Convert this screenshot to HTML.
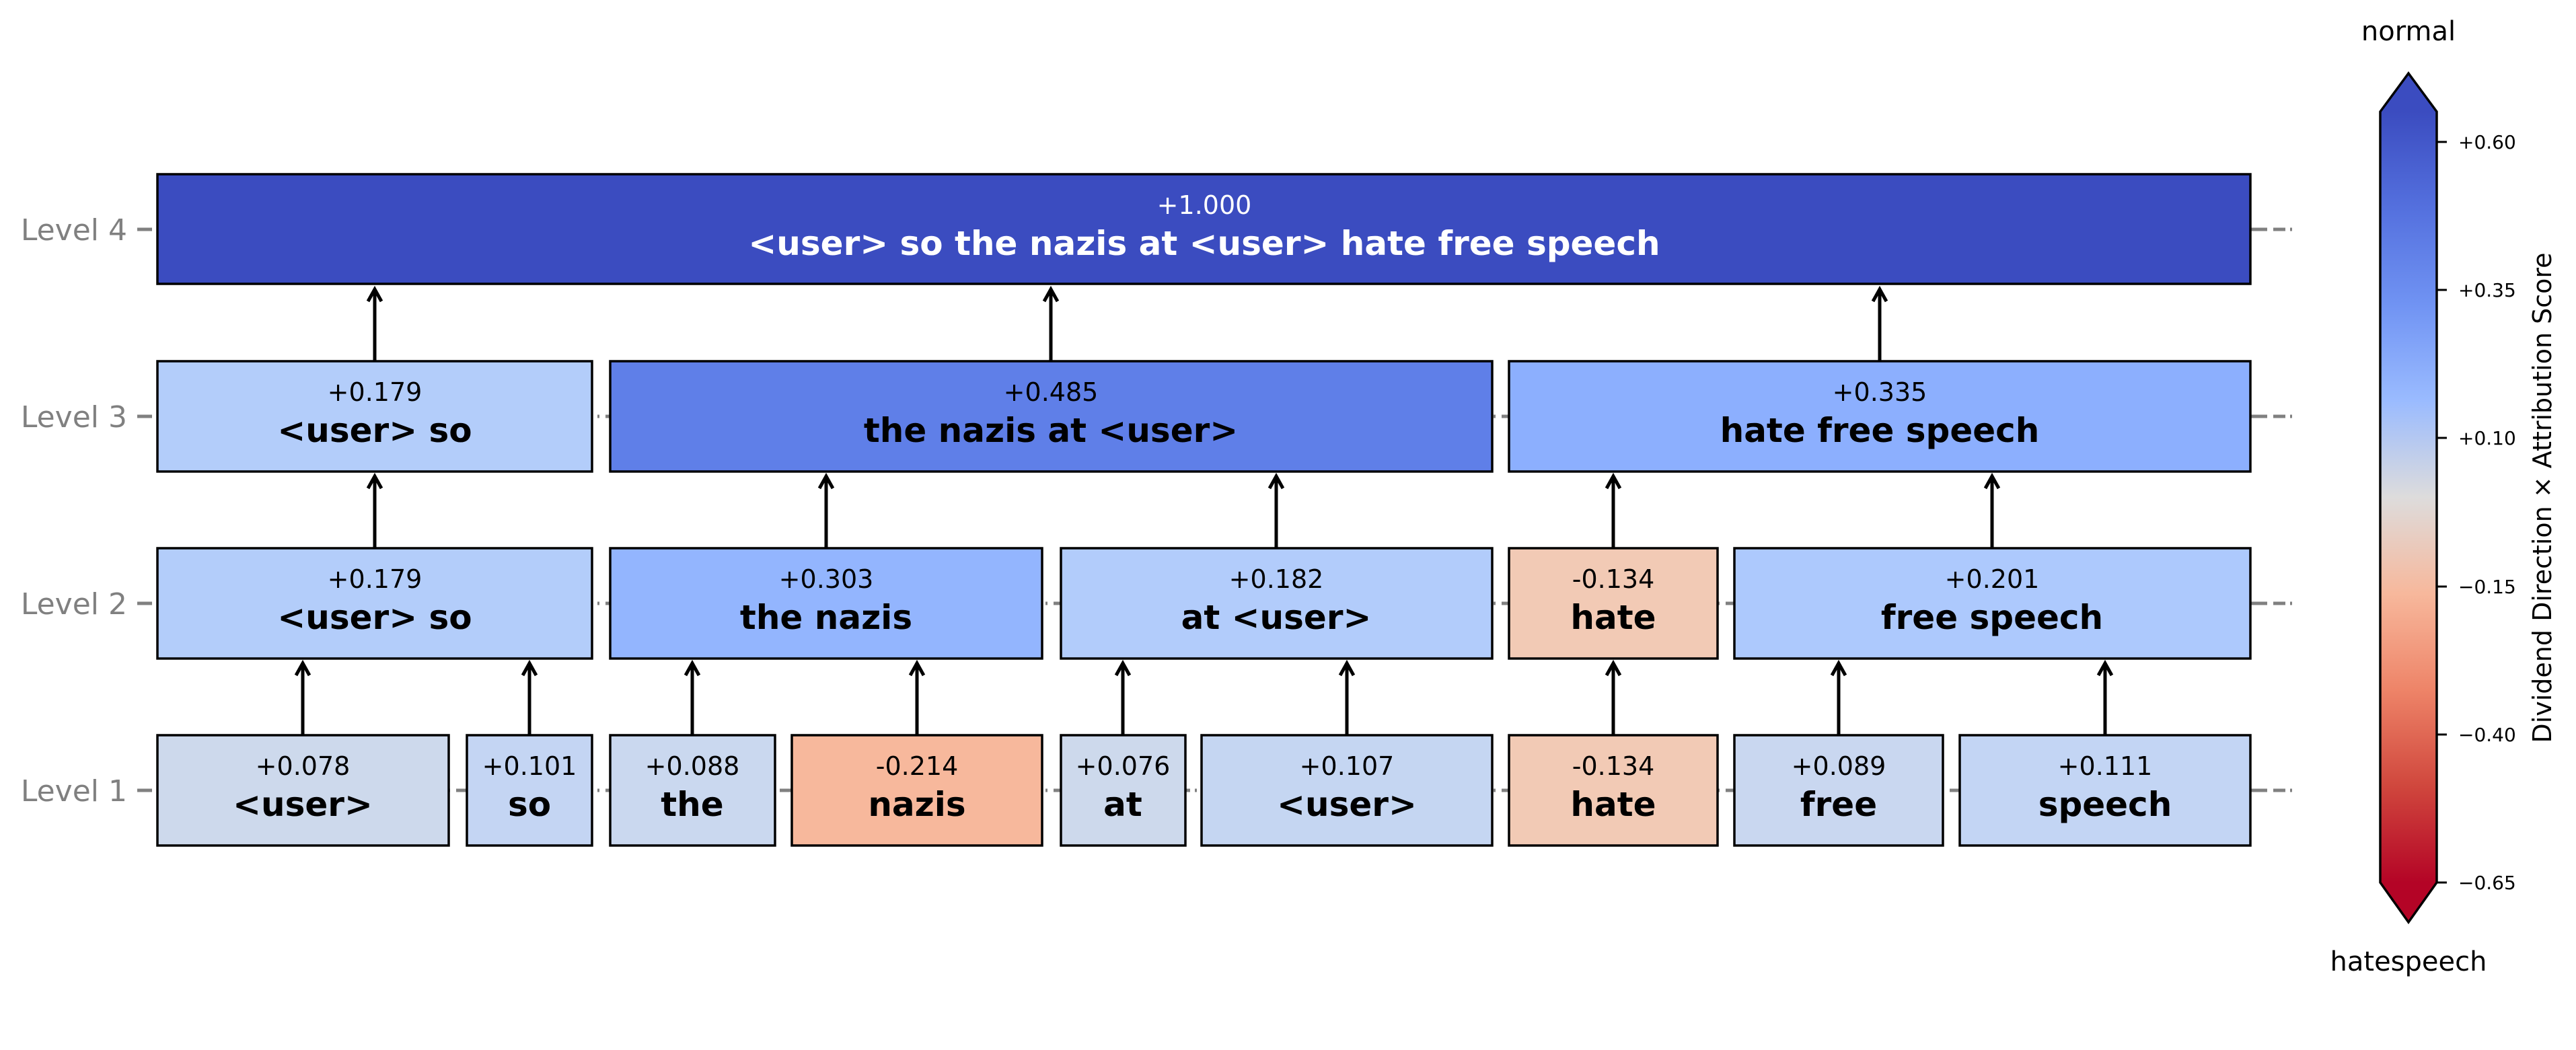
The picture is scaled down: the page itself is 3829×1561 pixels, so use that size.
<!DOCTYPE html>
<html><head><meta charset="utf-8"><style>
html,body{margin:0;padding:0;background:#fff;}
svg{display:block;}
text{font-family:"DejaVu Sans","Liberation Sans",sans-serif;}
</style></head><body>
<svg width="3829" height="1561" viewBox="0 0 3829 1561" xmlns="http://www.w3.org/2000/svg">
<defs>
<linearGradient id="cw" gradientUnits="userSpaceOnUse" x1="0" y1="166" x2="0" y2="1312">
<stop offset="0" stop-color="#3b4cc0"/>
<stop offset="0.125" stop-color="#5470de"/>
<stop offset="0.25" stop-color="#7093f3"/>
<stop offset="0.375" stop-color="#9abbff"/>
<stop offset="0.5" stop-color="#dddcdc"/>
<stop offset="0.625" stop-color="#f7b89c"/>
<stop offset="0.75" stop-color="#ee8468"/>
<stop offset="0.875" stop-color="#d0473d"/>
<stop offset="1" stop-color="#b40426"/>
</linearGradient>
</defs>

<g fill="#808080" font-size="44" text-anchor="end">
<text x="189" y="357">Level 4</text>
<text x="189" y="635">Level 3</text>
<text x="189" y="913">Level 2</text>
<text x="189" y="1191">Level 1</text>
</g>
<g stroke="#808080" stroke-width="5">
<line x1="204" y1="341" x2="226" y2="341"/>
<line x1="204" y1="619" x2="226" y2="619"/>
<line x1="204" y1="897" x2="226" y2="897"/>
<line x1="204" y1="1175" x2="226" y2="1175"/>
</g>
<g stroke="#808080" stroke-width="5" stroke-dasharray="28,9,18,7,3,9">
<line x1="234" y1="341" x2="3411" y2="341"/>
<line x1="234" y1="619" x2="3411" y2="619"/>
<line x1="234" y1="897" x2="3411" y2="897"/>
<line x1="234" y1="1175" x2="3411" y2="1175"/>
</g>

<g stroke="#000" stroke-width="3.5">
<rect x="234" y="259" width="3111" height="163" fill="#3b4cc0"/>

<rect x="234" y="537" width="646" height="164" fill="#b3cdfa"/>
<rect x="907" y="537" width="1311" height="164" fill="#5f7fe8"/>
<rect x="2243" y="537" width="1102" height="164" fill="#8caffe"/>

<rect x="234" y="815" width="646" height="164" fill="#b3cdfa"/>
<rect x="907" y="815" width="642" height="164" fill="#93b5fe"/>
<rect x="1577" y="815" width="641" height="164" fill="#b2ccfb"/>
<rect x="2243" y="815" width="310" height="164" fill="#f2cab5"/>
<rect x="2578" y="815" width="767" height="164" fill="#adc9fd"/>

<rect x="234" y="1093" width="433" height="164" fill="#cdd9ec"/>
<rect x="694" y="1093" width="186" height="164" fill="#c4d5f3"/>
<rect x="907" y="1093" width="245" height="164" fill="#cad8ef"/>
<rect x="1177" y="1093" width="372" height="164" fill="#f7b89c"/>
<rect x="1577" y="1093" width="185" height="164" fill="#cdd9ec"/>
<rect x="1786" y="1093" width="432" height="164" fill="#c5d6f2"/>
<rect x="2243" y="1093" width="310" height="164" fill="#f2cab5"/>
<rect x="2578" y="1093" width="310" height="164" fill="#c9d7f0"/>
<rect x="2913" y="1093" width="432" height="164" fill="#c3d5f4"/>
</g>

<g text-anchor="middle">
<text x="1790" y="318" font-size="38" fill="#fff">+1.000</text>
<text x="1790" y="379" font-size="50" font-weight="bold" fill="#fff">&lt;user&gt; so the nazis at &lt;user&gt; hate free speech</text>

<g font-size="38" fill="#000">
<text x="557" y="596">+0.179</text>
<text x="1562" y="596">+0.485</text>
<text x="2794" y="596">+0.335</text>
<text x="557" y="874">+0.179</text>
<text x="1228" y="874">+0.303</text>
<text x="1897" y="874">+0.182</text>
<text x="2398" y="874">-0.134</text>
<text x="2961" y="874">+0.201</text>
<text x="450" y="1152">+0.078</text>
<text x="787" y="1152">+0.101</text>
<text x="1029" y="1152">+0.088</text>
<text x="1363" y="1152">-0.214</text>
<text x="1669" y="1152">+0.076</text>
<text x="2002" y="1152">+0.107</text>
<text x="2398" y="1152">-0.134</text>
<text x="2733" y="1152">+0.089</text>
<text x="3129" y="1152">+0.111</text>
</g>
<g font-size="50" font-weight="bold" fill="#000">
<text x="557" y="657">&lt;user&gt; so</text>
<text x="1562" y="657">the nazis at &lt;user&gt;</text>
<text x="2794" y="657">hate free speech</text>
<text x="557" y="935">&lt;user&gt; so</text>
<text x="1228" y="935">the nazis</text>
<text x="1897" y="935">at &lt;user&gt;</text>
<text x="2398" y="935">hate</text>
<text x="2961" y="935">free speech</text>
<text x="450" y="1213">&lt;user&gt;</text>
<text x="787" y="1213">so</text>
<text x="1029" y="1213">the</text>
<text x="1363" y="1213">nazis</text>
<text x="1669" y="1213">at</text>
<text x="2002" y="1213">&lt;user&gt;</text>
<text x="2398" y="1213">hate</text>
<text x="2733" y="1213">free</text>
<text x="3129" y="1213">speech</text>
</g>
</g>

<g stroke="#000" stroke-width="5" fill="none">
<path d="M450 1093V986 M440 1004L450 986L460 1004"/>
<path d="M787 1093V986 M777 1004L787 986L797 1004"/>
<path d="M1029 1093V986 M1019 1004L1029 986L1039 1004"/>
<path d="M1363 1093V986 M1353 1004L1363 986L1373 1004"/>
<path d="M1669 1093V986 M1659 1004L1669 986L1679 1004"/>
<path d="M2002 1093V986 M1992 1004L2002 986L2012 1004"/>
<path d="M2398 1093V986 M2388 1004L2398 986L2408 1004"/>
<path d="M2733 1093V986 M2723 1004L2733 986L2743 1004"/>
<path d="M3129 1093V986 M3119 1004L3129 986L3139 1004"/>
<path d="M557 815V708 M547 726L557 708L567 726"/>
<path d="M1228 815V708 M1218 726L1228 708L1238 726"/>
<path d="M1897 815V708 M1887 726L1897 708L1907 726"/>
<path d="M2398 815V708 M2388 726L2398 708L2408 726"/>
<path d="M2961 815V708 M2951 726L2961 708L2971 726"/>
<path d="M557 537V430 M547 448L557 430L567 448"/>
<path d="M1562 537V430 M1552 448L1562 430L1572 448"/>
<path d="M2794 537V430 M2784 448L2794 430L2804 448"/>
</g>

<path d="M3538 167 L3580 109 L3622 167 Z" fill="#3b4cc0"/>
<path d="M3538 1311 L3580 1371 L3622 1311 Z" fill="#b40426"/>
<rect x="3538" y="166" width="84" height="1146" fill="url(#cw)"/>
<path d="M3538 166 L3580 109 L3622 166 L3622 1312 L3580 1371 L3538 1312 Z" fill="none" stroke="#000" stroke-width="3.5"/>
<g stroke="#000" stroke-width="3">
<line x1="3622" y1="211" x2="3637" y2="211"/>
<line x1="3622" y1="431" x2="3637" y2="431"/>
<line x1="3622" y1="651" x2="3637" y2="651"/>
<line x1="3622" y1="872" x2="3637" y2="872"/>
<line x1="3622" y1="1092" x2="3637" y2="1092"/>
<line x1="3622" y1="1312" x2="3637" y2="1312"/>
</g>
<g font-size="28" fill="#000">
<text x="3654" y="221">+0.60</text>
<text x="3654" y="441">+0.35</text>
<text x="3654" y="661">+0.10</text>
<text x="3654" y="882">−0.15</text>
<text x="3654" y="1102">−0.40</text>
<text x="3654" y="1322">−0.65</text>
</g>
<text x="3580" y="60" font-size="40" text-anchor="middle">normal</text>
<text x="3580" y="1443" font-size="40" text-anchor="middle">hatespeech</text>
<text transform="translate(3792,740) rotate(-90)" font-size="38" text-anchor="middle">Dividend Direction × Attribution Score</text>
</svg>
</body></html>
